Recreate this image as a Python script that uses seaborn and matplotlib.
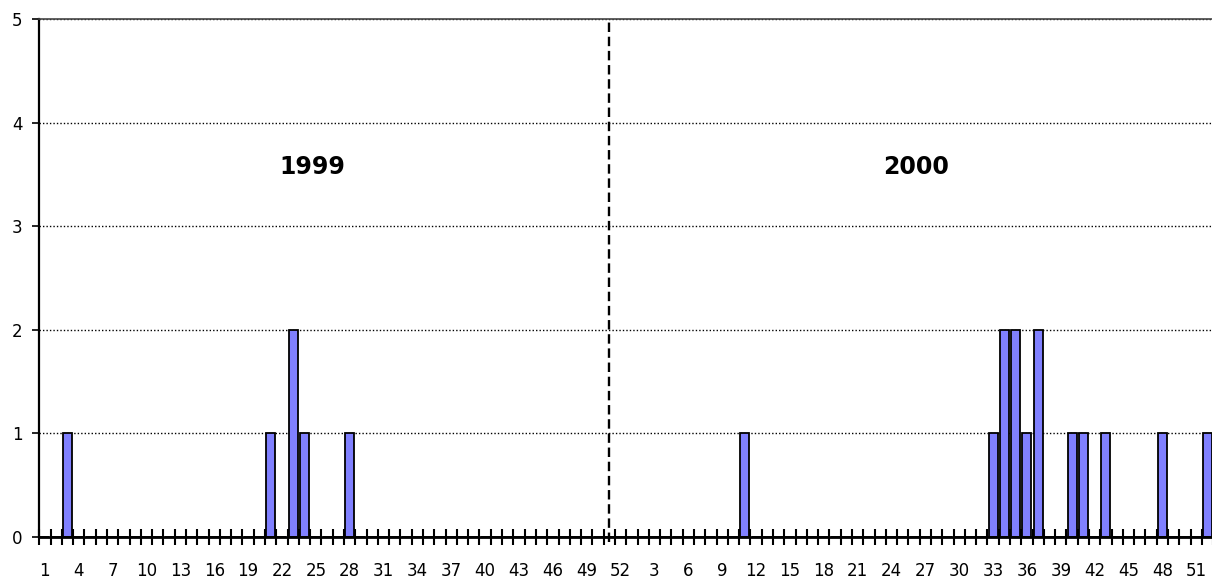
"""Weekly case counts 1999-2000 as a seaborn bar chart (Excel-style look)."""

import matplotlib

matplotlib.use("Agg")
import matplotlib.pyplot as plt
import numpy as np
import pandas as pd
import seaborn as sns

# ---- data -----------------------------------------------------------------
weeks = list(range(1, 53))

counts_1999 = [
    0, 0, 1, 0, 0, 0, 0, 0, 0, 0,
    0, 0, 0, 0, 0, 0, 0, 0, 0, 0,
    1, 0, 2, 1, 0, 0, 0, 1, 0, 0,
    0, 0, 0, 0, 0, 0, 0, 0, 0, 0,
    0, 0, 0, 0, 0, 0, 0, 0, 0, 0,
    0, 0,
]
counts_2000 = [
    0, 0, 0, 0, 0, 0, 0, 0, 0, 0,
    1, 0, 0, 0, 0, 0, 0, 0, 0, 0,
    0, 0, 0, 0, 0, 0, 0, 0, 0, 0,
    0, 0, 1, 2, 2, 1, 2, 0, 0, 1,
    1, 0, 1, 0, 0, 0, 0, 1, 0, 0,
    0, 1,
]
years = ["1999", "2000"]
y_ticks = [0, 1, 2, 3, 4, 5]

df = pd.DataFrame({
    "year": [years[0]] * len(weeks) + [years[1]] * len(weeks),
    "week": weeks + weeks,
    "count": counts_1999 + counts_2000,
})
df["slot"] = df["year"] + "-" + df["week"].map("{:02d}".format)
order = list(df["slot"])

# ---- plot -----------------------------------------------------------------
sns.set_style("white")
plt.rcParams["font.family"] = ["DejaVu Sans"]
plt.rcParams["text.color"] = "black"
plt.rcParams["xtick.color"] = "black"
plt.rcParams["ytick.color"] = "black"

fig = plt.figure(figsize=(12.12, 5.83), dpi=100)
ax = fig.add_axes([0.0324, 0.0789, 0.9686, 0.8885])

sns.barplot(
    data=df, x="slot", y="count", order=order, ax=ax,
    color="#8080FF", saturation=1, edgecolor="black", linewidth=1.3,
    width=0.8, errorbar=None,
)

ax.set_xlim(-0.5, len(order) - 0.5)
ax.set_ylim(0, 5)

# dotted horizontal gridlines
for v in y_ticks[1:]:
    ax.axhline(v, color="black", linestyle=(0, (1, 1.5)), linewidth=1.0, zorder=0)

# x axis: labels every 3rd week at slot centres, tick marks at slot edges
label_pos = list(range(0, len(order), 3))
ax.set_xticks(label_pos)
ax.set_xticklabels([str(df["week"].iloc[i]) for i in label_pos], fontsize=12)
ax.set_xticks(np.arange(-0.5, len(order), 1), minor=True)
ax.tick_params(axis="x", which="major", length=0, pad=18, bottom=True)
ax.tick_params(axis="x", which="minor", direction="inout", length=11, width=1.5,
               color="black", bottom=True)

ax.set_yticks(y_ticks)
ax.set_yticklabels([str(v) for v in y_ticks], fontsize=12)
ax.tick_params(axis="y", which="major", direction="out", length=5, width=1.2, pad=7,
               color="black", left=True)

ax.set_xlabel("")
ax.set_ylabel("")

ax.spines["right"].set_visible(False)
ax.spines["top"].set_color("#444444")
ax.spines["top"].set_linewidth(1.2)
ax.spines["left"].set_color("black")
ax.spines["left"].set_linewidth(1.6)
ax.spines["bottom"].set_color("black")
ax.spines["bottom"].set_linewidth(2.0)

# year separator and labels
ax.axvline(50, ymin=-0.01, ymax=1.0, color="black", linestyle=(0, (4, 2)),
           linewidth=1.7, clip_on=False, zorder=5)
ax.text(23.7, 3.57, years[0], ha="center", va="center", fontsize=17,
        fontweight="bold", color="black")
ax.text(77.2, 3.57, years[1], ha="center", va="center", fontsize=17,
        fontweight="bold", color="black")

fig.savefig("out.png", dpi=100)
